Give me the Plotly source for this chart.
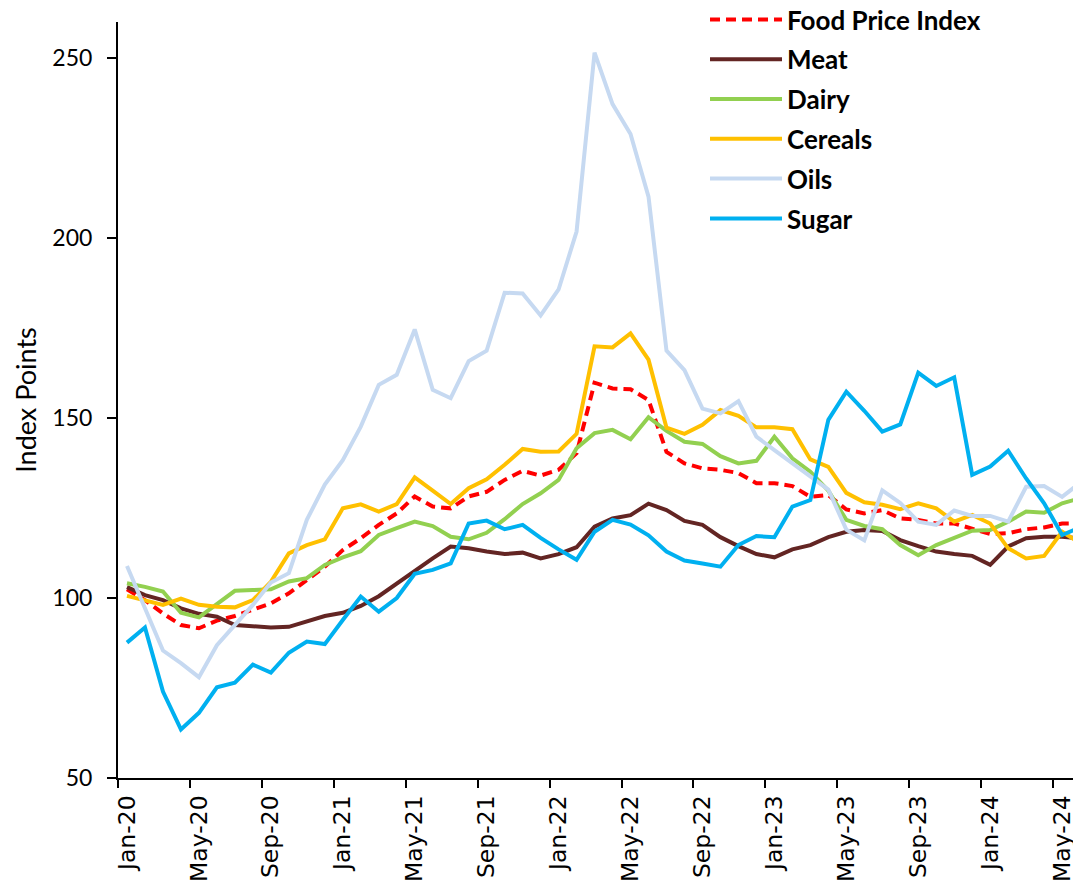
import pandas as pd
import plotly.graph_objects as go

months = pd.date_range("2020-01-01", periods=54, freq="MS").strftime("%b-%y").tolist()

food_price_index = [102.4, 99.4, 95.7, 92.5, 91.6, 93.7, 95.0, 96.7, 98.5, 101.3, 105.0, 108.7,
                    113.3, 116.6, 120.3, 123.5, 128.2, 125.4, 124.9, 128.2, 129.5, 132.8, 135.3, 134.0,
                    135.6, 140.2, 159.8, 158.2, 158.0, 155.0, 140.6, 137.4, 136.0, 135.6, 134.7, 131.9,
                    131.9, 131.1, 128.1, 128.6, 124.6, 123.5, 124.4, 122.1, 121.7, 120.7, 120.7, 119.3,
                    117.8, 118.0, 119.1, 119.6, 120.7, 120.7]
meat = [103.0, 100.8, 99.4, 97.1, 95.6, 94.8, 92.5, 92.2, 91.8, 92.0, 93.4, 95.0,
        95.9, 97.8, 100.5, 104.0, 107.8, 111.0, 114.3, 113.8, 112.9, 112.2, 112.6, 111.0,
        112.2, 114.1, 119.8, 122.1, 123.0, 126.2, 124.4, 121.4, 120.3, 116.9, 114.4, 112.2,
        111.3, 113.5, 114.7, 116.9, 118.4, 118.9, 118.6, 116.1, 114.4, 112.9, 112.2, 111.7,
        109.2, 114.3, 116.6, 117.0, 117.0, 116.6]
dairy = [104.1, 103.1, 101.8, 95.9, 94.6, 98.3, 102.0, 102.2, 102.4, 104.6, 105.5, 109.2,
         111.3, 113.0, 117.5, 119.4, 121.2, 120.0, 117.0, 116.3, 118.1, 121.9, 126.1, 129.1,
         132.8, 141.6, 145.8, 146.7, 144.1, 150.2, 146.4, 143.4, 142.8, 139.4, 137.4, 138.1,
         144.8, 138.8, 135.1, 129.8, 121.7, 120.0, 119.1, 114.7, 111.9, 114.7, 116.6, 118.7,
         118.9, 121.2, 124.0, 123.7, 126.3, 127.7]
cereals = [100.6, 99.4, 98.1, 99.8, 98.1, 97.6, 97.4, 99.4, 104.5, 112.4, 114.7, 116.3,
           124.9, 126.0, 124.0, 126.1, 133.5, 129.8, 126.1, 130.5, 133.0, 137.0, 141.4, 140.6,
           140.7, 145.6, 169.9, 169.6, 173.5, 166.2, 147.3, 145.6, 148.1, 152.2, 150.6, 147.4,
           147.4, 146.9, 138.5, 136.4, 129.2, 126.6, 125.9, 124.7, 126.3, 124.9, 121.2, 123.1,
           120.7, 113.8, 111.0, 111.7, 118.4, 115.2]
oils = [108.9, 97.1, 85.4, 81.9, 78.0, 86.9, 92.5, 98.1, 104.3, 106.9, 121.7, 131.5,
        138.3, 147.6, 159.2, 162.0, 174.6, 157.8, 155.5, 165.8, 168.7, 184.8, 184.6, 178.5,
        185.7, 201.8, 251.5, 237.2, 228.9, 211.5, 168.7, 163.3, 152.6, 151.3, 154.7, 144.8,
        141.1, 137.4, 133.7, 130.1, 119.0, 116.0, 129.9, 126.4, 121.2, 120.3, 124.3, 122.8,
        122.8, 121.2, 130.9, 131.1, 128.1, 132.0]
sugar = [87.6, 91.8, 74.0, 63.5, 68.1, 75.2, 76.5, 81.5, 79.3, 84.8, 87.9, 87.2,
         93.9, 100.4, 96.2, 100.0, 106.7, 107.8, 109.6, 120.7, 121.5, 119.1, 120.3, 116.7,
         113.5, 110.6, 118.4, 121.7, 120.4, 117.4, 112.9, 110.4, 109.6, 108.7, 114.7, 117.2,
         116.9, 125.4, 127.2, 149.5, 157.3, 152.0, 146.2, 148.2, 162.6, 158.9, 161.3, 134.2,
         136.5, 140.9, 133.2, 126.3, 117.5, 119.6]

series_names = ["Food Price Index", "Meat", "Dairy", "Cereals", "Oils", "Sugar"]
series_values = [food_price_index, meat, dairy, cereals, oils, sugar]
series_colors = ["#FF0000", "#632523", "#92D050", "#FFC000", "#C6D9F1", "#00B0F0"]
series_dash = ["10px,6px", "solid", "solid", "solid", "solid", "solid"]

x_idx = list(range(len(months)))
label_idx = x_idx[::4]
boundary_idx = [i - 0.5 for i in label_idx]

fig = go.Figure()
for name, vals, col, dash in zip(series_names, series_values, series_colors, series_dash):
    fig.add_trace(go.Scatter(x=x_idx, y=vals, name=name, mode="lines",
                             line=dict(color=col, width=4, dash=dash),
                             legendgroup=name))

# invisible trace on overlay axis to show boundary tick marks
fig.add_trace(go.Scatter(x=[boundary_idx[0]], y=[None], xaxis="x2", showlegend=False,
                         hoverinfo="skip", mode="lines"))

xr = [-0.5, 53.05]
fig.update_layout(
    width=1073, height=877,
    margin=dict(l=110, r=0, t=14, b=107, autoexpand=False),
    paper_bgcolor="white", plot_bgcolor="white",
    font=dict(family="Lato", color="black"),
    showlegend=True,
    legend=dict(x=(705 - 118) / 963, xanchor="left", y=1 + 26 / 756, yanchor="top",
                font=dict(family="Lato", size=26, color="black", weight="bold"),
                bgcolor="rgba(0,0,0,0)", tracegroupgap=3, itemwidth=72,
                traceorder="grouped"),
    xaxis=dict(range=xr, tickmode="array", tickvals=label_idx,
               ticktext=[months[i] for i in label_idx], tickangle=-90,
               ticks="", ticklabelstandoff=6, showgrid=False, zeroline=False, automargin=False,
               showline=True, linecolor="black", linewidth=2,
               tickfont=dict(family="DejaVu Sans", size=23.5, color="black")),
    xaxis2=dict(range=xr, overlaying="x", anchor="y", side="bottom",
                tickmode="array", tickvals=boundary_idx, ticks="outside",
                ticklen=9, tickwidth=2, tickcolor="black", showticklabels=False,
                showgrid=False, zeroline=False, showline=False, automargin=False),
    yaxis=dict(range=[50, 260], tickmode="array", tickvals=[50, 100, 150, 200, 250],
               ticks="outside", ticklen=9, tickwidth=2, tickcolor="black",
               ticklabelstandoff=10, automargin=False,
               showgrid=False, zeroline=False, showline=True, linecolor="black", linewidth=2,
               tickfont=dict(family="Lato", size=23, color="black"),
               title=dict(text="Index Points", font=dict(family="Lato", size=27, color="black"),
                          standoff=8)),
)

fig.write_html("out.html")
